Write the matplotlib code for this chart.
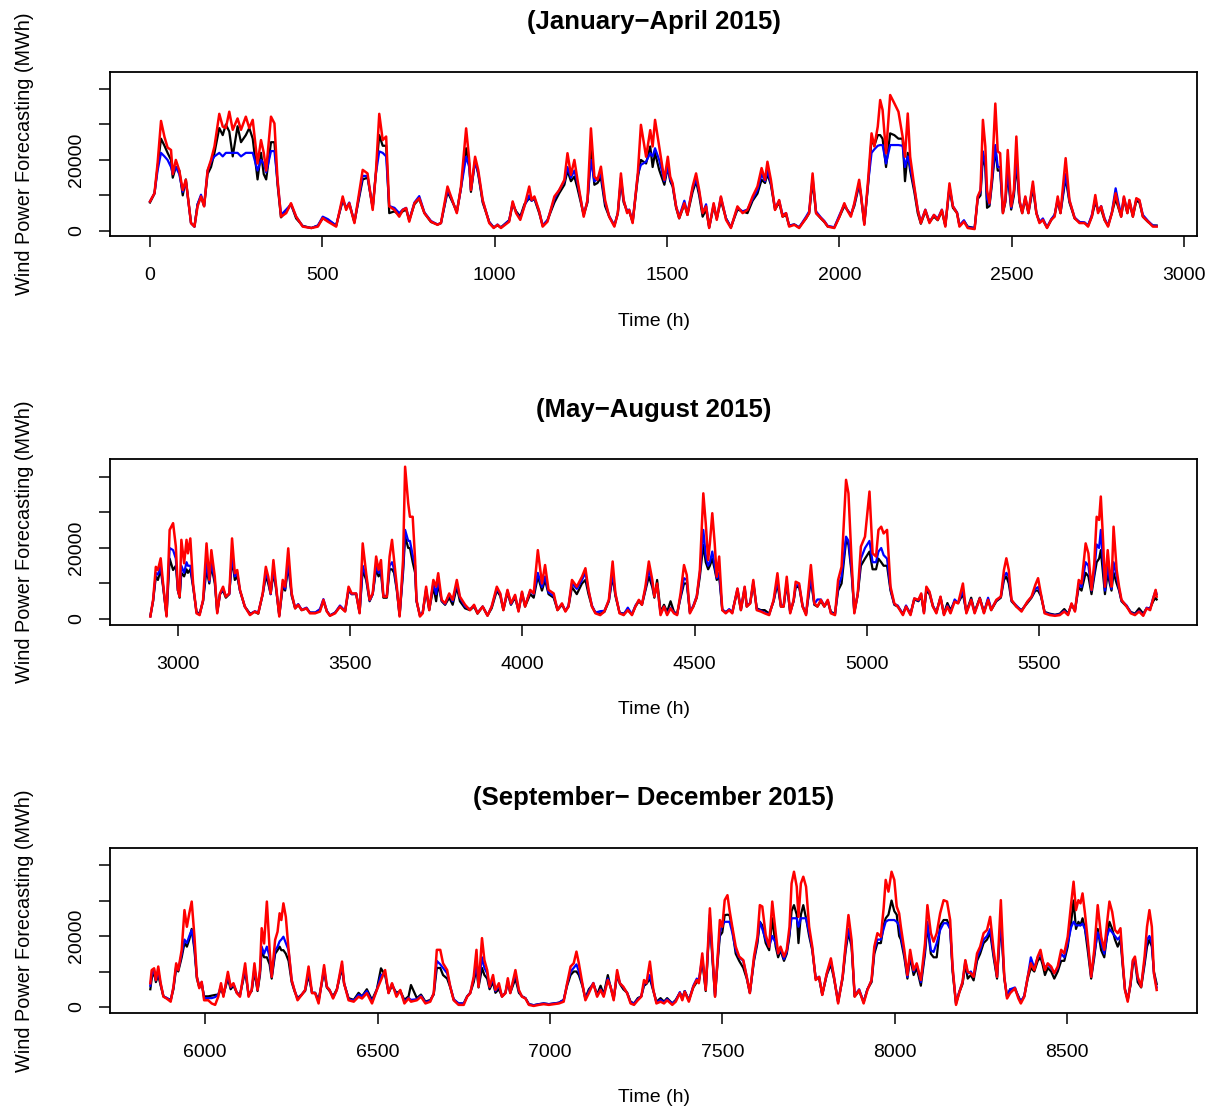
import numpy as np
import matplotlib
matplotlib.use("Agg")
import matplotlib.pyplot as plt

plt.rcParams['font.family'] = ['Liberation Sans', 'DejaVu Sans']

# ---------------- Panel 1: January-April 2015 (values in thousand MWh) -------------
p1_time = [0, 13, 22, 32, 42, 51, 61, 66, 75, 85,
           95, 104, 119, 129, 138, 148, 157, 167, 177, 187,
           201, 211, 220, 230, 240, 254, 264, 278, 288, 298,
           312, 322, 330, 337, 351, 361, 370, 380, 395, 409,
           424, 443, 468, 487, 501, 516, 540, 559, 569, 578,
           593, 617, 631, 646, 655, 665, 675, 685, 694, 709,
           723, 733, 743, 752, 767, 781, 796, 815, 834, 844,
           863, 873, 890, 902, 917, 926, 931, 943, 952, 965,
           984, 997, 1008, 1018, 1042, 1052, 1062, 1074, 1086, 1100,
           1107, 1115, 1129, 1139, 1153, 1173, 1187, 1202, 1211, 1221,
           1231, 1240, 1258, 1269, 1279, 1289, 1298, 1308, 1320, 1332,
           1347, 1357, 1366, 1374, 1384, 1390, 1400, 1415, 1424, 1439,
           1451, 1458, 1465, 1477, 1492, 1502, 1509, 1516, 1526, 1535,
           1550, 1559, 1574, 1584, 1593, 1603, 1613, 1622, 1635, 1644,
           1656, 1671, 1685, 1704, 1719, 1733, 1748, 1762, 1774, 1784,
           1791, 1801, 1813, 1825, 1835, 1845, 1854, 1869, 1883, 1903,
           1912, 1922, 1932, 1946, 1956, 1966, 1985, 2000, 2014, 2022,
           2033, 2043, 2057, 2062, 2072, 2083, 2093, 2101, 2111, 2118,
           2125, 2135, 2147, 2159, 2171, 2183, 2190, 2198, 2205, 2217,
           2227, 2236, 2249, 2261, 2274, 2285, 2297, 2307, 2319, 2329,
           2341, 2348, 2361, 2372, 2392, 2401, 2409, 2416, 2423, 2428,
           2435, 2442, 2452, 2459, 2466, 2474, 2481, 2488, 2498, 2506,
           2513, 2522, 2530, 2539, 2548, 2561, 2571, 2580, 2590, 2602,
           2614, 2624, 2633, 2641, 2656, 2667, 2682, 2696, 2711, 2721,
           2732, 2742, 2750, 2759, 2769, 2779, 2790, 2801, 2809, 2817,
           2825, 2835, 2841, 2851, 2861, 2870, 2880, 2895, 2909, 2920]
p1_red = [8.3, 10.6, 19, 31, 26.5, 23.5, 22.8, 16, 20, 17,
          11.5, 14.4, 2.2, 1.2, 6.9, 9.7, 6.9, 17, 20, 23.8,
          33, 29.4, 29, 33.6, 28.5, 31.7, 28.5, 32.2, 29, 31.3,
          19, 25.6, 22, 17, 32.2, 30.3, 14.4, 4.0, 5.0, 7.8,
          4.0, 1.2, 0.8, 1.2, 3.6, 2.6, 1.2, 9.7, 5.9, 7.8,
          2.2, 17.2, 16.2, 5.9, 16, 33, 25.6, 26.6, 6.9, 5.9,
          4.0, 5.9, 6.4, 2.6, 7.8, 9.2, 5.0, 2.6, 1.7, 2.2,
          12.5, 9.7, 5.0, 12.5, 28.9, 20, 11.5, 20.9, 17.2, 8.7,
          2.2, 0.8, 1.7, 0.8, 2.6, 8.3, 5.0, 3.1, 6.9, 12.5,
          8.7, 9.7, 5.5, 1.2, 2.6, 9.7, 11.5, 14.4, 21.9, 15.8,
          20, 14.4, 4.0, 8.7, 28.9, 15.3, 14.4, 18.1, 8.7, 4.0,
          1.2, 5.0, 16.2, 8.7, 5.0, 5.9, 2.2, 16.2, 29.9, 20.9,
          28.4, 23.8, 31.3, 23.8, 14.4, 20.9, 15.3, 13.4, 6.9, 3.6,
          7.8, 4.5, 12.5, 16.2, 11.5, 5.0, 6.9, 0.8, 7.8, 3.1,
          9.7, 3.1, 0.8, 6.9, 5.0, 5.9, 9.7, 12.5, 17.7, 14.4,
          19.5, 14.4, 5.9, 8.7, 4.0, 5.0, 1.2, 1.7, 0.8, 3.6,
          5.0, 16.2, 5.0, 3.6, 2.6, 1.2, 0.8, 4.0, 7.8, 5.9,
          4.0, 7.8, 14.4, 10.6, 1.7, 14.4, 27.5, 23.8, 29.4, 36.9,
          34.1, 21.9, 38.3, 36.0, 33.6, 26.6, 20.9, 33.1, 20.9, 12.5,
          5.9, 2.2, 5.9, 2.2, 4.5, 3.1, 5.9, 1.2, 13.4, 6.9,
          5.0, 1.2, 2.6, 0.8, 0.5, 9.7, 11.5, 31.3, 23.8, 11.5,
          7.8, 15.3, 35.9, 22.4, 21.9, 5.0, 8.7, 22.8, 6.9, 11.5,
          26.6, 8.7, 5.0, 9.7, 5.0, 13.9, 5.0, 2.2, 3.1, 0.8,
          3.1, 4.0, 9.7, 5.0, 20.5, 8.7, 3.6, 2.2, 2.2, 1.2,
          4.0, 10.1, 5.0, 6.9, 3.1, 1.2, 5.0, 10.6, 6.9, 4.0,
          9.7, 5.0, 8.7, 4.0, 9.2, 8.7, 4.0, 2.6, 1.2, 1.2]
p1_black = [8.0, 10.5, 18, 26, 24, 22, 20, 15, 18, 17,
            10, 14.5, 2.2, 1.2, 7.5, 9.7, 7, 16, 18, 22,
            29, 27, 30, 28, 21, 29.5, 25, 27, 29, 26,
            14.5, 22, 16, 14.5, 25, 25, 13, 3.8, 5.5, 7.5,
            3.5, 1.4, 0.8, 1.5, 3.5, 3, 1.5, 8.5, 6.5, 7.5,
            2.5, 14.5, 15, 6.5, 16, 27, 24, 24, 5, 5.5,
            4.5, 5.5, 6, 3, 7.5, 9, 5, 2.5, 1.8, 2.2,
            11, 9, 5.5, 12, 23.3, 19, 11, 20, 16, 8,
            2.5, 1, 1.5, 1, 3, 7.5, 5.5, 4, 7.5, 9.2,
            8.5, 9, 5, 1.5, 3, 8, 10.6, 13, 17, 14,
            15.3, 12, 4.5, 8, 22.8, 13, 13.5, 15, 7, 4,
            1.5, 5, 14, 8, 5.5, 5.5, 2.5, 15, 20, 19,
            23.8, 18, 22, 17.2, 13, 18, 14, 12.5, 6.5, 3.5,
            7.5, 4.5, 11, 14, 10, 4, 6, 1, 7, 3.5,
            8.5, 3.5, 1, 6, 5.5, 5, 8.5, 10.5, 14.4, 13.5,
            16, 13, 6, 8, 4, 4.5, 1.5, 1.8, 1, 3.5,
            5, 14, 5, 3.5, 2.5, 1.2, 1, 4, 7, 6,
            4.5, 7, 13, 10, 2, 13, 26, 24, 27, 27,
            26, 18, 27.5, 27, 26, 26, 14, 22, 17, 11,
            5, 2, 5.5, 2.5, 4, 3, 5.5, 1.5, 12, 6.5,
            5, 1.5, 2.8, 1.2, 0.8, 9, 10, 21, 18, 6.5,
            7, 13, 23, 17, 17, 5, 8, 16, 6, 10,
            19, 8, 5, 9, 5, 12, 5, 2.5, 3, 1,
            3, 4.5, 8.5, 5, 15, 8, 3.5, 2.5, 2.2, 1.5,
            4, 8, 6, 6, 3, 1.5, 5, 9, 6.5, 4,
            9, 5, 8, 4, 8.5, 8, 4, 2.5, 1.5, 1.5]
p1_blue = [8.3, 10.6, 17, 22, 21, 20, 18, 16, 18, 16,
           11, 14, 2.2, 1.2, 7.5, 10.2, 7, 17, 19.5, 21,
           22, 21, 22, 22, 22, 22, 21, 22, 22, 22,
           17, 20, 19, 16.5, 22.5, 22.5, 14, 4.5, 6, 7.5,
           4, 1.3, 0.8, 1.5, 4, 3.3, 1.5, 9, 6.5, 8,
           2.5, 15.5, 15.5, 6.5, 16, 22.4, 22, 21, 7, 6.5,
           5, 6, 6.5, 3, 8, 9.8, 5.2, 2.8, 1.8, 2.2,
           11.5, 9.5, 5.2, 12, 20.9, 18, 11.5, 19.5, 16.5, 8.5,
           2.5, 0.9, 1.8, 0.9, 3, 8, 5.2, 3.5, 7, 10,
           8.5, 9.3, 5.5, 1.5, 3, 9, 11.5, 14, 18, 15,
           17, 13.5, 4.5, 8.5, 20, 14, 14.5, 16, 8, 4.2,
           1.5, 5, 15, 8.5, 5.5, 6, 2.5, 16, 18.6, 19.5,
           21.9, 21, 23.3, 20, 14, 18, 14.5, 13, 7, 4,
           8.5, 5, 12, 14.5, 11, 5, 7.5, 1, 7.5, 3.5,
           9.5, 3.5, 1, 6.5, 5.5, 6, 9, 11.5, 16, 14,
           17, 13.5, 6.5, 8.5, 4.5, 5, 1.5, 1.8, 1, 4,
           5.5, 15, 5.5, 3.8, 2.8, 1.4, 1, 4.5, 7.5, 6,
           4.5, 7.5, 13.5, 10.5, 2, 13.5, 22, 23, 24, 24.2,
           24.2, 19, 24.2, 24.2, 24.2, 24, 18, 21, 18, 12,
           6, 2.5, 6, 2.5, 4.5, 3.5, 6, 1.5, 12.5, 7,
           5.2, 1.5, 3, 1, 0.8, 9.5, 11, 22.4, 19, 9,
           7.5, 14, 24.2, 18, 18, 5.5, 8.5, 17, 6.5, 11,
           21, 8.5, 5.5, 9.5, 5.2, 13, 5.2, 2.5, 3.5, 1,
           3.3, 4.5, 9, 5.2, 16, 8.5, 3.8, 2.5, 2.4, 1.5,
           4.5, 9, 5.5, 7, 3.5, 1.5, 5.2, 12, 8, 4.5,
           9.5, 5.5, 8.5, 4.5, 9, 8.5, 4.5, 2.8, 1.5, 1.4]

# ---------------- Panel 2: May-August 2015 ----------------
p2_time = [2921, 2929, 2937, 2943, 2951, 2958, 2968, 2977, 2987, 2995,
           3001, 3006, 3011, 3019, 3026, 3030, 3037, 3045, 3055, 3064,
           3074, 3084, 3092, 3098, 3108, 3115, 3123, 3132, 3140, 3150,
           3158, 3166, 3173, 3181, 3195, 3210, 3224, 3234, 3247, 3256,
           3263, 3270, 3278, 3285, 3295, 3305, 3312, 3321, 3331, 3341,
           3350, 3360, 3374, 3384, 3399, 3413, 3423, 3433, 3442, 3457,
           3471, 3486, 3496, 3505, 3518, 3528, 3537, 3547, 3557, 3566,
           3576, 3583, 3590, 3597, 3607, 3615, 3622, 3628, 3636, 3644,
           3654, 3660, 3669, 3674, 3682, 3689, 3693, 3703, 3711, 3721,
           3730, 3742, 3750, 3756, 3766, 3776, 3788, 3798, 3810, 3819,
           3834, 3848, 3860, 3870, 3885, 3899, 3911, 3926, 3936, 3945,
           3957, 3967, 3979, 3989, 3999, 4008, 4023, 4033, 4045, 4057,
           4066, 4076, 4091, 4102, 4115, 4125, 4134, 4144, 4158, 4173,
           4183, 4192, 4202, 4212, 4226, 4238, 4251, 4262, 4270, 4282,
           4294, 4306, 4318, 4328, 4338, 4347, 4357, 4367, 4377, 4383,
           4391, 4401, 4411, 4420, 4430, 4440, 4449, 4459, 4469, 4477,
           4486, 4496, 4506, 4515, 4525, 4532, 4539, 4544, 4551, 4558,
           4564, 4571, 4580, 4590, 4600, 4609, 4624, 4634, 4645, 4651,
           4661, 4670, 4680, 4692, 4703, 4716, 4729, 4740, 4750, 4758,
           4767, 4777, 4787, 4793, 4803, 4813, 4823, 4837, 4847, 4856,
           4866, 4876, 4886, 4895, 4907, 4916, 4926, 4939, 4946, 4955,
           4963, 4973, 4982, 4994, 5007, 5016, 5026, 5033, 5041, 5048,
           5058, 5068, 5079, 5089, 5104, 5113, 5126, 5137, 5149, 5157,
           5165, 5172, 5181, 5191, 5201, 5213, 5223, 5233, 5242, 5254,
           5264, 5278, 5288, 5302, 5312, 5327, 5339, 5351, 5360, 5375,
           5388, 5397, 5404, 5411, 5419, 5433, 5448, 5465, 5477, 5488,
           5496, 5504, 5515, 5530, 5545, 5559, 5572, 5583, 5593, 5603,
           5614, 5622, 5634, 5642, 5651, 5659, 5666, 5673, 5678, 5685,
           5690, 5698, 5704, 5709, 5715, 5724, 5731, 5738, 5753, 5765,
           5777, 5789, 5801, 5811, 5821, 5830, 5837, 5840]
p2_red = [0.7, 5.4, 14.7, 13.8, 17.1, 10.0, 0.7, 25.1, 27.0, 20.4,
          8.2, 6.3, 22.3, 15.7, 22.3, 18.5, 22.7, 10.0, 1.6, 1.1,
          5.4, 21.3, 11.0, 19.4, 11.9, 1.6, 7.2, 9.1, 6.3, 7.2,
          22.7, 12.9, 13.8, 8.2, 3.5, 1.1, 2.1, 1.6, 7.2, 14.7,
          11.9, 7.2, 16.6, 10.0, 0.7, 11.0, 9.1, 19.9, 7.2, 3.0,
          4.0, 2.5, 3.0, 1.6, 1.6, 2.1, 5.4, 2.1, 0.9, 1.6,
          3.5, 2.1, 9.1, 7.2, 7.2, 1.6, 21.3, 12.9, 5.4, 7.2,
          17.6, 13.8, 16.6, 6.3, 6.3, 17.6, 22.3, 16.6, 9.1, 0.7,
          16.6, 42.9, 32.6, 28.8, 28.8, 16.6, 5.4, 0.7, 1.6, 9.1,
          2.5, 11.0, 9.1, 12.9, 5.4, 4.4, 7.2, 5.4, 11.0, 6.3,
          4.0, 2.5, 4.0, 1.6, 3.5, 0.9, 3.5, 9.1, 7.2, 2.5,
          8.2, 4.4, 6.8, 2.1, 7.7, 3.5, 8.2, 7.2, 19.4, 10.0,
          15.2, 8.2, 7.2, 2.5, 4.4, 2.1, 3.5, 11.0, 9.1, 11.9,
          14.3, 8.2, 3.5, 1.6, 1.1, 2.1, 5.4, 16.2, 7.2, 1.6,
          1.1, 2.5, 1.1, 3.5, 5.4, 4.0, 9.1, 16.2, 11.0, 6.3,
          10.0, 1.1, 3.5, 1.1, 3.0, 1.6, 1.1, 7.2, 15.2, 12.4,
          1.6, 3.5, 6.3, 13.8, 35.4, 27.0, 16.6, 21.3, 29.8, 21.3,
          11.9, 17.6, 2.5, 1.6, 2.5, 1.6, 8.6, 2.5, 9.1, 3.5,
          4.4, 11.0, 2.5, 2.1, 1.6, 1.1, 5.4, 12.9, 3.5, 3.5,
          11.9, 1.6, 5.4, 10.5, 10.0, 3.5, 1.1, 15.2, 4.4, 3.5,
          5.4, 3.5, 5.4, 1.6, 1.1, 11.0, 14.7, 39.2, 35.4, 16.6,
          1.6, 7.2, 20.4, 23.2, 35.9, 18.5, 17.6, 25.1, 26.0, 24.1,
          25.1, 9.1, 4.4, 3.5, 1.1, 3.5, 1.1, 5.8, 5.4, 7.2,
          1.6, 9.1, 7.7, 3.5, 1.6, 6.3, 1.1, 3.5, 1.6, 4.9,
          4.4, 10.0, 1.6, 5.4, 1.6, 5.8, 1.6, 5.4, 2.5, 5.4,
          6.3, 13.8, 17.1, 13.8, 5.4, 3.5, 2.1, 4.9, 6.3, 9.6,
          11.5, 7.2, 1.6, 1.1, 0.9, 1.1, 2.1, 1.1, 4.4, 2.1,
          11.0, 10.0, 21.3, 18.5, 8.2, 15.7, 28.8, 27.9, 34.5, 21.3,
          9.1, 19.4, 12.9, 9.1, 26.0, 13.8, 9.1, 5.4, 3.5, 1.6,
          1.1, 2.1, 0.9, 3.0, 2.5, 5.8, 8.2, 6.3]
p2_black = [0.8, 5, 12, 11, 14, 9, 1, 17, 13.8, 15,
            8, 6, 13, 12, 14, 13, 14, 9, 2, 1.5,
            5, 14, 10, 15, 10, 2, 7, 8, 6, 7,
            17, 11, 12, 8, 3.5, 1.5, 2, 1.5, 7, 12,
            10, 7, 13, 9, 1, 9, 8, 15, 6.5, 3,
            4, 2.5, 3, 1.8, 1.8, 2.5, 5, 2.2, 1, 1.8,
            3.5, 2.2, 8, 7, 7, 1.8, 13.8, 11, 5, 7,
            14, 12, 13, 6, 6, 14, 14, 13, 8, 1,
            13, 23.2, 20, 20, 16, 13, 5, 1, 1.8, 8,
            2.5, 9, 5, 10, 5, 4, 6, 4, 9, 5,
            3, 2.5, 3.5, 1.5, 3.5, 1, 3, 8, 6.5, 2.5,
            7.5, 4, 6, 2.5, 7, 3.5, 7, 6, 12, 8,
            11, 7, 6, 2.5, 4, 2.3, 3.5, 9, 7, 10,
            11, 7, 3.5, 1.8, 1.5, 2, 5, 12, 6.5, 1.8,
            1.5, 2.5, 1.3, 3.5, 5, 4, 8, 12, 9, 6,
            11, 2, 4, 2, 5, 2, 1.5, 6, 10, 10,
            2, 3.5, 6, 12, 20.9, 16, 14, 15, 17, 14,
            11, 12, 2.5, 2, 2.5, 2, 8, 2.5, 8.5, 3.5,
            4.5, 10, 3, 2.5, 2.5, 1.5, 5, 10, 3.5, 3.5,
            10, 2, 5, 9, 9, 3.5, 1.5, 11, 4, 3.5,
            5, 3.5, 5, 2, 1.5, 8, 10, 22, 21, 13,
            2, 7, 15, 17, 19, 14, 14, 17, 16, 15,
            15, 8, 4, 3.5, 1.5, 3.5, 1.5, 5.5, 5, 6.5,
            2, 8, 7, 3.5, 2, 6, 1.5, 4.5, 2.5, 5,
            4.5, 7, 2, 6, 2, 6, 2, 5.5, 2.5, 5,
            6, 11, 12, 10, 5, 3.5, 2.5, 4.5, 6, 8,
            8, 6.5, 2, 1.5, 1.2, 1.5, 2.8, 1.5, 4, 2.5,
            9, 8, 13, 12, 7, 12, 16, 17, 19.4, 12,
            7, 13, 10, 8, 13, 10, 8, 5, 3.5, 2,
            1.5, 3, 1.5, 3, 3, 5, 6, 5.5]
p2_blue = [0.8, 5.2, 13, 12.5, 15, 9.5, 1, 20, 19.4, 17,
           8, 6.5, 15, 13, 16, 15, 15, 9.5, 1.8, 1.3,
           5.2, 16, 10.5, 16, 11, 1.8, 7, 8.5, 6.5, 7,
           18, 12, 13, 8, 3.5, 1.3, 2.2, 1.8, 7, 13,
           11, 7, 14, 9.5, 1, 10, 8.5, 16, 7, 3.2,
           4.2, 2.6, 3.2, 1.8, 1.8, 2.8, 5.6, 2.3, 1, 1.8,
           3.8, 2.3, 8.5, 7, 7.2, 1.8, 15, 12, 5.2, 7,
           15, 13, 14, 6.5, 6.5, 15, 16, 14, 8.5, 1,
           14, 25.1, 22, 22, 18, 15, 5.2, 1, 1.8, 8.5,
           2.8, 10, 7, 11, 5.2, 4.2, 7, 5, 10, 6,
           3.5, 2.8, 3.8, 1.8, 3.5, 1, 3.5, 8.5, 7, 2.8,
           8, 4.2, 6.5, 2.3, 7.5, 3.8, 8, 7, 13, 9,
           12, 7.5, 6.5, 2.8, 4.2, 2.3, 3.8, 10, 8.5, 11,
           13, 8, 3.8, 1.8, 2.2, 2.3, 5.2, 13, 7, 1.8,
           1.3, 3.2, 1.3, 3.8, 5.2, 4.2, 8.5, 14, 10, 6.5,
           9.5, 1.5, 3.5, 1.5, 3.2, 1.8, 1.3, 6.5, 11.5, 11,
           1.8, 3.8, 6.5, 13, 25.1, 18, 15, 16, 19, 15,
           11.5, 13, 2.8, 1.8, 2.8, 1.8, 8.5, 2.8, 9, 3.8,
           4.5, 10.5, 2.8, 2.3, 1.8, 1.3, 5.2, 11, 3.8, 3.8,
           10.5, 1.8, 5.2, 9.5, 9.5, 3.8, 1.3, 12, 4.2, 5.5,
           5.5, 3.8, 5.2, 1.8, 1.3, 9, 12, 23.2, 22, 14,
           1.8, 7, 17, 20, 22, 16, 16, 19, 20, 18,
           17, 8.5, 4.2, 3.8, 1.3, 3.8, 1.3, 5.8, 5.2, 7,
           1.8, 8.5, 7.5, 3.8, 1.8, 6.2, 1.3, 3.8, 1.8, 5.5,
           4.5, 8, 1.8, 5.5, 1.8, 5.8, 1.8, 6, 2.8, 5.2,
           6.3, 12, 13, 12, 5.2, 3.8, 2.3, 4.8, 6.2, 8.5,
           9, 7, 1.8, 1.3, 1.1, 1.3, 2.3, 1.3, 4.2, 2.3,
           10, 9, 16, 15, 8, 13, 21, 20, 25.1, 15,
           8, 15, 11, 8.5, 16, 12, 8.5, 5.2, 3.8, 1.8,
           1.3, 2.3, 1.1, 3.2, 2.8, 6, 8, 7]

# ---------------- Panel 3: September-December 2015 ----------------
p3_time = [5841, 5845, 5852, 5857, 5864, 5871, 5879, 5888, 5900, 5908,
           5916, 5922, 5932, 5940, 5947, 5954, 5961, 5969, 5976, 5983,
           5990, 5997, 6009, 6019, 6029, 6038, 6046, 6053, 6066, 6074,
           6082, 6092, 6101, 6116, 6126, 6135, 6143, 6152, 6159, 6164,
           6171, 6179, 6187, 6193, 6203, 6210, 6216, 6221, 6227, 6234,
           6242, 6251, 6259, 6268, 6280, 6290, 6300, 6310, 6319, 6329,
           6339, 6345, 6353, 6361, 6371, 6382, 6397, 6403, 6416, 6431,
           6445, 6455, 6469, 6484, 6498, 6510, 6522, 6532, 6542, 6555,
           6566, 6578, 6590, 6597, 6614, 6626, 6639, 6653, 6663, 6672,
           6682, 6690, 6702, 6711, 6721, 6735, 6750, 6760, 6769, 6779,
           6787, 6793, 6803, 6810, 6818, 6825, 6835, 6842, 6852, 6861,
           6871, 6878, 6885, 6900, 6910, 6919, 6929, 6939, 6953, 6968,
           6982, 6997, 7011, 7026, 7040, 7050, 7060, 7069, 7077, 7084,
           7094, 7103, 7113, 7126, 7137, 7147, 7156, 7168, 7176, 7185,
           7195, 7203, 7213, 7224, 7234, 7244, 7255, 7265, 7273, 7280,
           7290, 7300, 7309, 7321, 7331, 7340, 7355, 7365, 7377, 7384,
           7391, 7403, 7416, 7426, 7432, 7442, 7452, 7464, 7471, 7479,
           7486, 7493, 7500, 7507, 7515, 7521, 7529, 7539, 7549, 7561,
           7571, 7580, 7592, 7602, 7609, 7616, 7626, 7636, 7645, 7655,
           7662, 7669, 7679, 7687, 7695, 7701, 7708, 7716, 7721, 7728,
           7735, 7743, 7752, 7761, 7771, 7781, 7790, 7803, 7815, 7824,
           7836, 7849, 7858, 7866, 7875, 7884, 7897, 7910, 7921, 7933,
           7941, 7950, 7960, 7968, 7974, 7982, 7991, 7999, 8006, 8013,
           8018, 8028, 8037, 8045, 8055, 8064, 8076, 8088, 8095, 8105,
           8113, 8122, 8132, 8142, 8152, 8161, 8168, 8178, 8187, 8197,
           8205, 8212, 8221, 8229, 8239, 8248, 8258, 8268, 8277, 8287,
           8297, 8308, 8318, 8326, 8335, 8349, 8359, 8366, 8376, 8386,
           8395, 8405, 8415, 8423, 8429, 8436, 8444, 8454, 8463, 8473,
           8483, 8492, 8502, 8512, 8519, 8526, 8533, 8539, 8545, 8552,
           8560, 8570, 8579, 8589, 8599, 8608, 8616, 8623, 8631, 8639,
           8647, 8655, 8662, 8668, 8676, 8684, 8691, 8697, 8705, 8715,
           8725, 8732, 8739, 8746, 8752, 8760]
p3_red = [6.7, 10.4, 10.9, 7.6, 11.4, 6.7, 2.9, 2.4, 1.5, 5.7,
          12.3, 10.4, 16.1, 27.3, 22.6, 26.4, 29.7, 19.8, 8.5, 5.3,
          7.1, 1.9, 1.9, 1.0, 0.6, 2.9, 6.7, 2.9, 9.9, 5.7,
          6.7, 3.9, 2.9, 12.3, 2.9, 4.8, 12.3, 4.8, 10.4, 22.2,
          17.9, 29.7, 16.1, 8.5, 18.9, 21.2, 26.4, 24.5, 29.2, 25.4,
          16.1, 7.6, 4.8, 1.9, 3.4, 4.8, 11.4, 3.9, 3.9, 1.0,
          7.6, 11.8, 5.7, 4.8, 2.4, 4.8, 12.8, 6.7, 1.9, 1.5,
          2.9, 2.4, 3.9, 1.0, 4.8, 7.6, 10.4, 3.9, 6.7, 2.9,
          4.8, 1.0, 2.4, 1.5, 1.9, 2.9, 1.0, 1.5, 3.9, 16.1,
          16.1, 12.3, 10.4, 5.7, 1.9, 0.6, 0.6, 2.9, 3.9, 8.5,
          16.1, 5.7, 19.4, 13.2, 10.4, 5.7, 9.0, 4.8, 6.7, 2.9,
          3.9, 8.1, 3.9, 10.4, 4.8, 2.9, 2.4, 0.6, 0.3, 0.6,
          0.8, 0.6, 0.8, 1.0, 1.5, 6.7, 11.4, 12.3, 15.6, 12.3,
          6.7, 1.9, 3.9, 6.7, 2.9, 4.8, 2.9, 7.6, 5.7, 1.9,
          10.4, 6.7, 5.7, 3.9, 1.0, 0.6, 1.9, 2.9, 7.6, 6.7,
          12.8, 4.8, 1.0, 1.5, 1.0, 1.9, 0.6, 1.5, 3.9, 1.9,
          4.3, 1.5, 5.7, 7.6, 6.7, 15.1, 4.8, 27.8, 16.1, 2.9,
          13.2, 24.5, 22.6, 30.1, 31.5, 27.3, 22.6, 17.0, 14.2, 13.2,
          8.5, 3.9, 14.2, 19.8, 28.7, 28.3, 20.3, 17.0, 29.7, 20.8,
          15.1, 17.0, 14.2, 16.1, 22.6, 34.8, 38.1, 33.9, 25.4, 34.8,
          36.7, 33.9, 22.6, 17.0, 7.6, 8.5, 3.4, 9.5, 13.7, 8.5,
          1.0, 8.5, 17.9, 25.9, 18.9, 2.9, 4.8, 1.0, 4.8, 7.6,
          17.0, 20.8, 19.8, 27.8, 35.8, 32.5, 38.1, 35.8, 28.3, 26.4,
          22.6, 16.1, 9.0, 16.1, 10.4, 12.3, 7.6, 17.9, 28.7, 20.8,
          18.4, 20.8, 26.4, 30.1, 29.7, 24.5, 11.4, 0.6, 3.9, 7.1,
          13.2, 9.9, 9.5, 8.5, 15.1, 17.0, 20.8, 21.7, 25.4, 16.1,
          8.5, 30.1, 8.5, 2.4, 3.9, 5.3, 2.4, 1.0, 2.9, 8.5,
          12.3, 10.4, 14.2, 16.1, 13.2, 10.4, 12.3, 11.4, 9.5, 11.4,
          16.1, 15.1, 19.8, 29.2, 35.3, 27.3, 30.1, 29.2, 32.0, 26.4,
          18.9, 8.5, 16.1, 28.7, 19.8, 16.1, 23.6, 29.7, 26.8, 21.7,
          20.8, 22.2, 12.3, 4.8, 1.5, 6.7, 13.2, 14.2, 8.5, 5.7,
          14.2, 22.6, 27.3, 22.6, 9.5, 4.8]
p3_black = [5, 8, 10, 7, 9, 6, 3, 2.5, 2, 5,
            11, 10, 14, 18, 17, 19, 22, 16, 8, 5.5,
            6.5, 3, 3, 3.2, 3.4, 3.5, 5, 3.5, 8, 5,
            6, 4, 3.5, 10, 3.5, 4.5, 10, 4.5, 9, 16,
            14, 14, 12, 8, 15, 16, 17, 16, 16, 15,
            13, 7, 4.5, 2.5, 3.5, 4.5, 9, 4, 4, 2,
            7, 10, 5.5, 4.5, 3, 5, 11, 6.5, 2.5, 2,
            4, 3, 5, 2, 5, 10.9, 9, 4, 6, 4,
            4.5, 2, 3, 6.2, 2.5, 3.5, 1.5, 2, 3.5, 11,
            11, 9, 8, 5.5, 2, 1, 1, 3, 4, 7,
            11, 5.5, 11, 9, 8, 5, 7, 4, 5, 3,
            4, 7, 4, 8, 4, 3, 2.5, 0.8, 0.5, 0.8,
            1, 0.8, 1, 1.2, 2, 6, 9, 10, 10, 9,
            6, 2.5, 5, 6.5, 3.5, 6, 3.5, 9, 5.5, 2.5,
            9, 6.5, 5, 4, 1.5, 1, 2.5, 3, 6, 6.5,
            8, 4.5, 1.5, 2.5, 1.5, 2.5, 1, 2, 4, 2.5,
            4.5, 2, 5.5, 7, 7, 13, 4.5, 25, 14, 3,
            12, 20, 21, 25.9, 26, 25.9, 22, 15, 13, 11,
            8, 4, 13, 18, 24, 23, 18, 16, 25, 17,
            14, 16, 13, 15, 20, 27, 28.7, 26, 18, 26,
            28.7, 25, 20, 16, 8, 8, 3.5, 9, 12, 8,
            1.5, 8, 16, 21, 17, 3, 4.5, 1.5, 5, 7,
            15, 18, 18, 23, 25, 26, 30, 27, 26, 20,
            19, 14, 8, 14, 9, 11, 6, 15, 23, 15,
            14, 14, 23, 24.5, 24.5, 22, 10, 1, 4, 6.5,
            12, 8, 9, 7.5, 13, 15, 18, 19, 21, 14,
            8, 24, 8, 3, 5, 5, 3, 1.5, 3, 8,
            11, 10, 13, 14, 12, 9, 11, 10, 8, 10,
            13, 13, 17, 24, 30, 22, 24, 23, 25, 22,
            16, 8, 14, 22, 16, 14, 20, 24, 22, 19,
            17, 19, 11, 5, 2, 6, 12, 13, 7, 5.5,
            12, 17, 19, 17, 10, 6.5]
p3_blue = [6, 9, 10.5, 7.5, 10, 6.5, 3, 2.6, 1.8, 5.5,
           11.5, 10.5, 15, 19, 18, 20, 21.7, 17, 8.5, 6,
           7, 2.5, 2.5, 2.5, 2.8, 3.5, 6, 3.2, 9, 5.5,
           6.5, 4, 3.2, 11, 3.2, 4.8, 11, 4.8, 10, 17,
           15, 17, 14, 8.5, 16, 17, 18.5, 19, 19.8, 18,
           16, 7.5, 4.8, 2.2, 3.5, 4.8, 10, 4, 4, 1.5,
           7.2, 11, 5.7, 4.8, 2.6, 4.8, 12, 6.8, 2.2, 1.8,
           3.5, 3, 4.5, 1.5, 4.8, 9, 9.5, 4, 6.5, 3.5,
           4.5, 1.5, 2.6, 2, 2.2, 3.2, 1.3, 1.8, 3.8, 13,
           12, 11, 9.5, 5.8, 2.2, 1, 1, 3, 4, 8,
           12, 6, 14, 11, 9.5, 5.5, 8, 4.5, 6, 3,
           4, 7.5, 4, 9.5, 4.5, 3, 2.5, 0.8, 0.5, 0.8,
           1, 0.8, 1, 1.2, 2, 6.5, 10, 11, 12, 10,
           6.5, 2.2, 4.5, 6.8, 3.2, 5, 3.2, 8, 5.8, 2.2,
           9.5, 6.8, 5.5, 4, 1.3, 1, 2.2, 3, 6.5, 6.8,
           9, 4.8, 1.3, 2, 1.3, 2.2, 1, 1.8, 4.2, 2.2,
           4.5, 1.8, 6, 8, 7.5, 14, 5, 26, 15, 3.2,
           13, 21, 23, 24, 24, 24, 21, 16, 14, 13,
           8.5, 4, 13.5, 19, 24, 22, 19, 17, 20, 18,
           15, 16.5, 13.5, 15.5, 21, 25, 25, 25, 22.6, 25,
           25, 25, 21, 16.5, 8, 8.5, 3.5, 9.3, 13, 8.5,
           1.3, 8.5, 17, 22, 18, 3.2, 5, 1.3, 5, 7.5,
           16, 19, 19, 22, 24, 24.5, 24.5, 24.5, 24, 23,
           20, 15, 8.5, 15, 10, 12, 7, 16, 24, 16,
           15.5, 18, 21.7, 23.6, 23.6, 22, 11, 1, 4.2, 7,
           13, 9.5, 10, 8.5, 14, 16, 19, 20, 22, 15,
           8.5, 25, 8.5, 2.8, 5, 5.5, 2.8, 1.5, 3.2, 8.5,
           14, 11, 14, 15, 13, 11, 12, 11, 9.5, 11,
           15, 14, 18, 22.5, 24, 23, 23, 23, 23.5, 22,
           18, 8.5, 15, 21, 18, 15, 20, 22, 21, 20,
           19, 20, 12, 5, 2, 6.5, 13, 13.5, 8, 6,
           13, 19, 20, 18, 9.5, 5.5]

titles = ["(January\u2212April 2015)", "(May\u2212August 2015)", "(September\u2212 December 2015)"]
x_ticks = [[0, 500, 1000, 1500, 2000, 2500, 3000],
           [3000, 3500, 4000, 4500, 5000, 5500],
           [6000, 6500, 7000, 7500, 8000, 8500]]
y_ticks = [0, 10000, 20000, 30000, 40000]
y_tick_labels = ["0", "", "20000", "", ""]
x_label = "Time (h)"
y_label = "Wind Power Forecasting (MWh)"

panels = [
    (p1_time, p1_black, p1_blue, p1_red),
    (p2_time, p2_black, p2_blue, p2_red),
    (p3_time, p3_black, p3_blue, p3_red),
]
for p in panels:
    n = len(p[0])
    assert all(len(s) == n for s in p), [len(s) for s in p]

W, H = 1211, 1112
fig = plt.figure(figsize=(W / 100, H / 100), dpi=100)

# pixel boxes (left, top, right, bottom)
boxes = [(110, 72, 1197, 236), (110, 459, 1197, 625), (110, 848, 1197, 1013)]
xlims = [(-116, 3037), (2804, 5957), (5724, 8877)]
ylims = [(-1450, 44800), (-1690, 45070), (-1690, 44790)]
title_y = [22, 410, 798]
xlabel_y = [321, 709, 1098]

for i, (t, k, b, r) in enumerate(panels):
    L, T, R, B = boxes[i]
    ax = fig.add_axes([L / W, 1 - B / H, (R - L) / W, (B - T) / H])
    t = np.array(t, dtype=float)
    ax.plot(t, np.array(k) * 1000, color='black', lw=1.6, solid_joinstyle='round')
    ax.plot(t, np.array(b) * 1000, color='#0000FF', lw=1.6, solid_joinstyle='round')
    ax.plot(t, np.array(r) * 1000, color='#FF0000', lw=1.8, solid_joinstyle='round')
    ax.set_xlim(*xlims[i])
    ax.set_ylim(*ylims[i])
    ax.set_xticks(x_ticks[i])
    ax.set_xticklabels([str(v) for v in x_ticks[i]], fontsize=14)
    ax.set_yticks(y_ticks)
    ax.set_yticklabels(y_tick_labels, fontsize=14, rotation=90, va='center')
    ax.tick_params(direction='out', length=8, width=1.1, color='black')
    ax.tick_params(axis='x', pad=14)
    ax.tick_params(axis='y', pad=10)
    for s in ax.spines.values():
        s.set_linewidth(1.3)
        s.set_color('black')
    cx = (L + R) / 2 / W
    fig.text(cx, 1 - title_y[i] / H, titles[i], ha='center', va='center',
             fontsize=18.5, fontweight='bold')
    fig.text(cx, 1 - xlabel_y[i] / H, x_label, ha='center', va='center', fontsize=14)
    fig.text(25 / W, 1 - (T + B) / 2 / H, y_label, ha='center', va='center',
             rotation=90, fontsize=14.3)

fig.savefig("out.png", dpi=100)
